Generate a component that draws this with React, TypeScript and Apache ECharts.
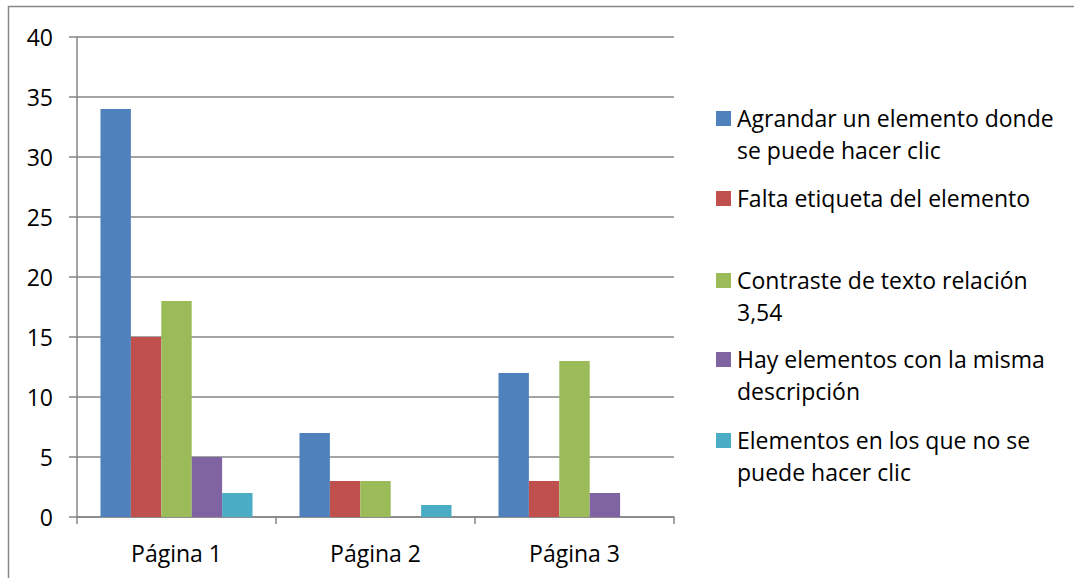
import React, { useEffect, useRef } from "react";
import * as echarts from "echarts";

const categories = ["Página 1", "Página 2", "Página 3"];
const seriesNames = [
  "Agrandar un elemento donde se puede hacer clic",
  "Falta etiqueta del elemento",
  "Contraste de texto relación 3,54",
  "Hay elementos con la misma descripción",
  "Elementos en los que no se puede hacer clic",
];
const legendLines = [
  ["Agrandar un elemento donde", "se puede hacer clic"],
  ["Falta etiqueta del elemento"],
  ["Contraste de texto relación", "3,54"],
  ["Hay elementos con la misma", "descripción"],
  ["Elementos en los que no se", "puede hacer clic"],
];
const colors = ["#4F81BD", "#C0504D", "#9BBB59", "#8064A2", "#4BACC6"];
const values: (number | null)[][] = [
  [34, 7, 12],
  [15, 3, 3],
  [18, 3, 13],
  [5, null, 2],
  [2, 1, null],
];
const yTicks = { min: 0, max: 40, interval: 5 };
const legendCenters = [118, 198, 280, 359, 440];

const FONT = "Open Sans";

export default function App() {
  const ref = useRef<HTMLDivElement>(null);
  useEffect(() => {
    document.body.style.margin = "0";
    const chart = echarts.init(ref.current!, null, { renderer: "svg" });
    const graphics: any[] = [
      {
        type: "rect",
        shape: { x: 8.5, y: 6.5, width: 1200, height: 700 },
        style: { fill: "none", stroke: "#868686", lineWidth: 1.5 },
        silent: true,
      },
    ];
    legendLines.forEach((lines, i) => {
      graphics.push({
        type: "rect",
        shape: { x: 716, y: legendCenters[i] - 7, width: 15, height: 15 },
        style: { fill: colors[i] },
      });
      graphics.push({
        type: "text",
        x: 737,
        y: legendCenters[i] - 15.5,
        style: {
          text: lines.join("\n"),
          font: `23px "${FONT}"`,
          fill: "#000",
          lineHeight: 31.5,
          verticalAlign: "top",
        },
      });
    });
    chart.setOption({
      animation: false,
      grid: { left: 77, right: 400, top: 37, bottom: 61, containLabel: false },
      xAxis: {
        type: "category",
        data: categories,
        axisLine: { lineStyle: { color: "#868686", width: 1.5 } },
        axisTick: { show: true, length: 7, lineStyle: { color: "#868686", width: 1.5 } },
        axisLabel: { color: "#000", fontFamily: FONT, fontSize: 23, margin: 24 },
      },
      yAxis: {
        type: "value",
        min: yTicks.min,
        max: yTicks.max,
        interval: yTicks.interval,
        axisLine: { show: true, lineStyle: { color: "#868686", width: 1.5 } },
        axisTick: { show: true, length: 8, lineStyle: { color: "#868686", width: 1.5 } },
        splitLine: { lineStyle: { color: "#868686", width: 1.5 } },
        axisLabel: { color: "#000", fontFamily: FONT, fontSize: 23, margin: 24 },
      },
      series: seriesNames.map((name, i) => ({
        name,
        type: "bar",
        data: values[i],
        itemStyle: { color: colors[i] },
        barGap: "0%",
        barCategoryGap: "23.6%",
      })),
      graphic: graphics,
    });
    return () => chart.dispose();
  }, []);
  return <div ref={ref} style={{ width: 1074, height: 578 }} />;
}
